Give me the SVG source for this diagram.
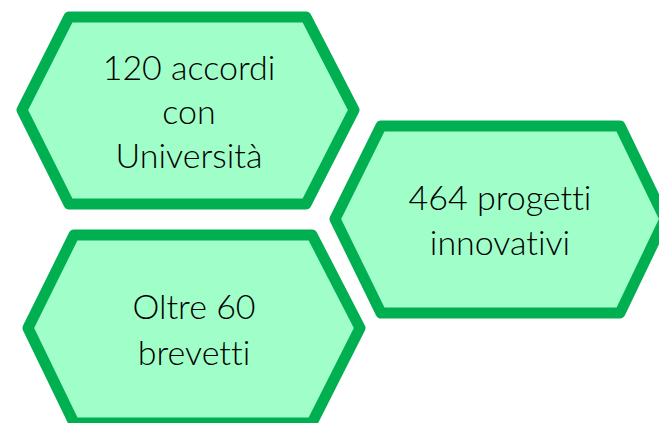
<svg xmlns="http://www.w3.org/2000/svg" width="659" height="423" viewBox="0 0 659 423">
<style>
.hex{fill:#A0FFC8;stroke:#00B050;stroke-width:11;stroke-linejoin:round}
.t{font-family:Lato,"Open Sans","Liberation Sans",sans-serif;font-size:34px;font-weight:300;font-variant-ligatures:none;fill:#000;text-anchor:middle}
</style>
<rect width="659" height="423" fill="#fff"/>
<g id="connectors"/>
<g id="node-accordi">
<polygon class="hex" points="69,17 306,17 354,110 306,204 69,204 22,110"/>
<text class="t" x="189" y="80">120 accordi</text>
<text class="t" x="189" y="124">con</text>
<text class="t" x="189" y="168">Università</text>
</g>
<g id="node-progetti">
<polygon class="hex" points="381,126 620,126 665,219 620,313 381,313 335,219"/>
<text class="t" x="500" y="210">464 progetti</text>
<text class="t" x="500" y="255">innovativi</text>
</g>
<g id="node-brevetti">
<polygon class="hex" points="74,235 312,235 360,328 312,423 74,423 28,328"/>
<text class="t" x="194" y="319">Oltre 60</text>
<text class="t" x="194" y="365">brevetti</text>
</g>
</svg>
